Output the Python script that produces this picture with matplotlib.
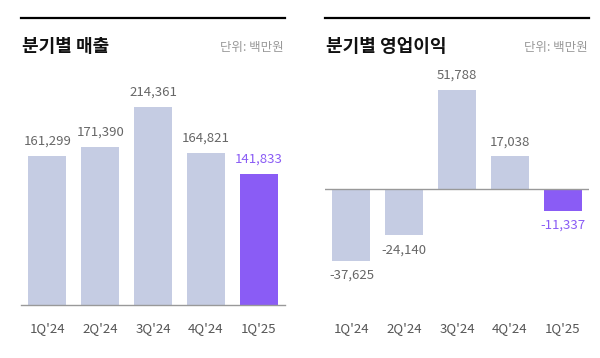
import matplotlib.pyplot as plt
from matplotlib.lines import Line2D

plt.rcParams['font.family'] = ['Noto Sans CJK KR', 'DejaVu Sans']

quarters = ["1Q'24", "2Q'24", "3Q'24", "4Q'24", "1Q'25"]
sales = [161299, 171390, 214361, 164821, 141833]
profit = [-37625, -24140, 51788, 17038, -11337]

light = '#c5cce3'
purple = '#8a5cf5'
W, H = 600, 358

fig = plt.figure(figsize=(6, 3.58), dpi=100)


def px_axes(x0, x1, ytop, ybot):
    return fig.add_axes([x0 / W, 1 - ybot / H, (x1 - x0) / W, (ybot - ytop) / H])


def style(ax):
    for s in ax.spines.values():
        s.set_visible(False)
    ax.set_yticks([])
    ax.set_xticks(range(len(quarters)))
    ax.set_xticklabels(quarters, fontsize=9.5, color='#555555')
    ax.tick_params(axis='x', length=0, pad=12)
    ax.set_xlim(-0.5, len(quarters) - 0.5)


cols = [light] * 4 + [purple]
lab_cols = ['#666666'] * 4 + [purple]

# left: 매출
ax1 = px_axes(21, 285, 80, 305)
sc1 = 198 / 214361
ax1.set_ylim(0, 225 / sc1)
ax1.bar(range(5), sales, width=0.72, color=cols)
ax1.axhline(0, color='#999999', lw=1, clip_on=False)
for i, v in enumerate(sales):
    ax1.text(i, v + 8 / sc1, f'{v:,}', ha='center', va='bottom',
             fontsize=9.5, color=lab_cols[i])
style(ax1)

# right: 영업이익
ax2 = px_axes(325, 589, 80, 305)
sc2 = 99 / 51788
ax2.set_ylim(-116 / sc2, 109 / sc2)
ax2.bar(range(5), profit, width=0.72, color=cols)
ax2.axhline(0, color='#999999', lw=1)
for i, v in enumerate(profit):
    if v >= 0:
        ax2.text(i, v + 8 / sc2, f'{v:,}', ha='center', va='bottom',
                 fontsize=9.5, color=lab_cols[i])
    else:
        ax2.text(i, v - 8 / sc2, f'{v:,}', ha='center', va='top',
                 fontsize=9.5, color=lab_cols[i])
style(ax2)

# headers
for x0, x1, title in [(21, 285, '분기별 매출'), (325, 589, '분기별 영업이익')]:
    fig.add_artist(Line2D([x0 / W, x1 / W], [1 - 18 / H, 1 - 18 / H],
                          color='black', lw=1.6))
    fig.text((x0 + 1) / W, 1 - 47 / H, title, fontsize=13, fontweight='bold',
             ha='left', va='center', color='#111111')
    fig.text((x1 - 1) / W, 1 - 47 / H, '단위: 백만원', fontsize=9,
             ha='right', va='center', color='#999999')

fig.savefig('out.png', dpi=100, facecolor='white')
